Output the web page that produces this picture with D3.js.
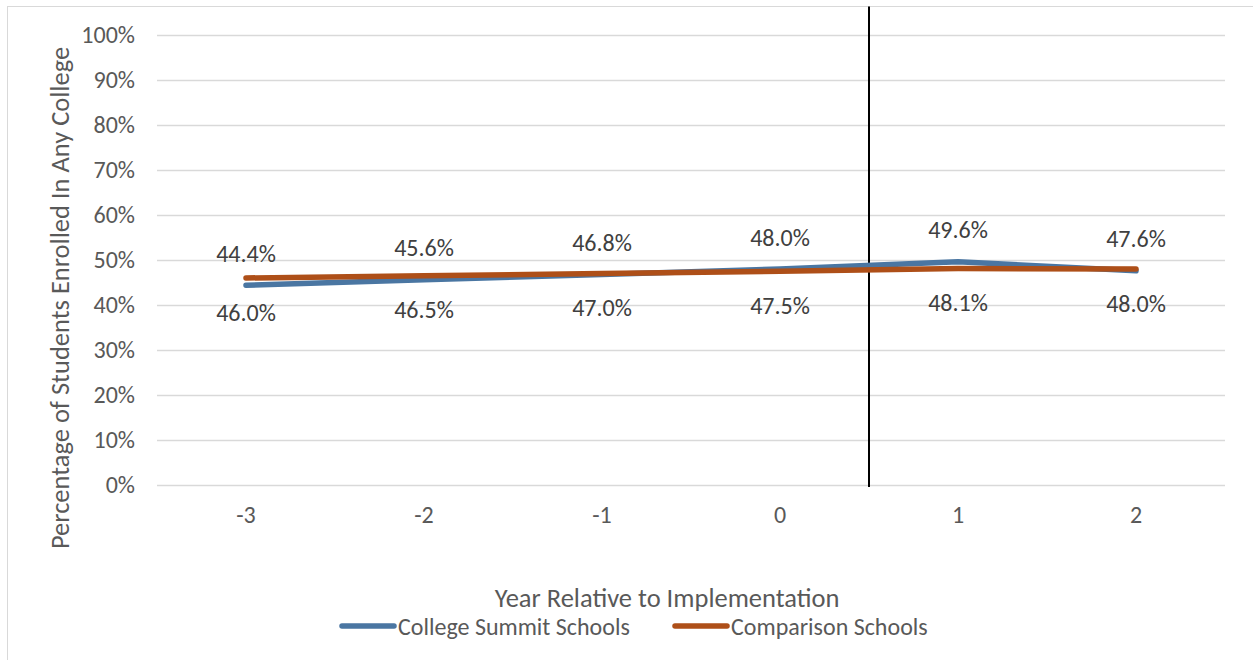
<!DOCTYPE html>
<html>
<head>
<meta charset="utf-8">
<script src="https://cdn.jsdelivr.net/npm/d3@7"></script>
<style>
  html, body { margin: 0; padding: 0; background: #fff; }
  svg { display: block; font-family: Carlito, Calibri, "Open Sans", "Noto Sans", sans-serif; }
</style>
</head>
<body>
<svg id="chart" width="1253" height="660"></svg>
<script>
// Years relative to the start of the program
const years = ["-3", "-2", "-1", "0", "1", "2"];
// Percentage of students enrolled in any college
const summitValues = [44.4, 45.6, 46.8, 48.0, 49.6, 47.6];
const comparisonValues = [46.0, 46.5, 47.0, 47.5, 48.1, 48.0];
const yTicks = [0, 10, 20, 30, 40, 50, 60, 70, 80, 90, 100];
const seriesNames = ["College Summit Schools", "Comparison Schools"];
const implementationBetween = ["0", "1"];

const colors = { summit: "#4a76a2", comparison: "#ae4f18" };

const svg = d3.select("#chart");
const W = 1253, H = 660;
const plot = { left: 157, right: 1225, top: 35, bottom: 485 };

// chart frame (extends past the bottom/right edge)
svg.append("rect")
  .attr("x", 7.5).attr("y", 6.5)
  .attr("width", W + 20).attr("height", H + 20)
  .attr("fill", "#fff").attr("stroke", "#d9d9d9").attr("stroke-width", 1);

const x = d3.scaleBand().domain(years).range([plot.left, plot.right]);
const y = d3.scaleLinear().domain([0, 100]).range([plot.bottom, plot.top]);

// gridlines + y tick labels
const yAxis = d3.axisLeft(y).tickValues(yTicks)
  .tickSize(-(plot.right - plot.left)).tickPadding(22)
  .tickFormat(d => d + "%");
const gy = svg.append("g").attr("transform", `translate(${plot.left},0)`).call(yAxis)
  .attr("font-family", null);
gy.select(".domain").remove();
gy.selectAll(".tick line").attr("stroke", "#d9d9d9").attr("stroke-width", 1.5);
gy.selectAll(".tick text").attr("fill", "#595959").attr("font-size", 24);

// x tick labels
const xAxis = d3.axisBottom(x).tickSize(0).tickPadding(21);
const gx = svg.append("g").attr("transform", `translate(0,${plot.bottom})`).call(xAxis)
  .attr("font-family", null);
gx.select(".domain").remove();
gx.selectAll(".tick text").attr("fill", "#595959").attr("font-size", 24);

// implementation marker between year 0 and year 1
const markerX = (x(implementationBetween[0]) + x.bandwidth() / 2 + x(implementationBetween[1]) + x.bandwidth() / 2) / 2;
svg.append("line")
  .attr("x1", markerX).attr("x2", markerX)
  .attr("y1", 6.5).attr("y2", plot.bottom + 2)
  .attr("stroke", "#000").attr("stroke-width", 2);

const cx = d => x(d) + x.bandwidth() / 2;
const line = d3.line().x(d => cx(d.year)).y(d => y(d.value));

const series = [
  { key: "summit", name: seriesNames[0], values: summitValues, dy: -32 },
  { key: "comparison", name: seriesNames[1], values: comparisonValues, dy: 34 }
];

series.forEach(s => {
  const pts = years.map((yr, i) => ({ year: yr, value: s.values[i] }));
  svg.append("path").datum(pts)
    .attr("d", line)
    .attr("fill", "none")
    .attr("stroke", colors[s.key])
    .attr("stroke-width", 5.5)
    .attr("stroke-linecap", "round")
    .attr("stroke-linejoin", "round");
});

// data labels: summit above, comparison below
series.forEach(s => {
  svg.append("g").selectAll("text")
    .data(years.map((yr, i) => ({ year: yr, value: s.values[i] })))
    .join("text")
    .attr("x", d => cx(d.year))
    .attr("y", d => y(d.value) + s.dy)
    .attr("text-anchor", "middle")
    .attr("dominant-baseline", "central")
    .attr("fill", "#404040")
    .attr("font-size", 24)
    .text(d => d.value.toFixed(1) + "%");
});

// axis titles
svg.append("text")
  .attr("x", (plot.left + plot.right) / 2 - 24).attr("y", 598)
  .attr("text-anchor", "middle").attr("dominant-baseline", "central")
  .attr("fill", "#595959").attr("font-size", 26.5)
  .text("Year Relative to Implementation");

svg.append("text")
  .attr("transform", `translate(60,${(plot.top + plot.bottom) / 2 + 38}) rotate(-90)`)
  .attr("text-anchor", "middle").attr("dominant-baseline", "central")
  .attr("fill", "#595959").attr("font-size", 26.5)
  .text("Percentage of Students Enrolled In Any College");

// legend
const legendItems = [
  { key: "summit", name: seriesNames[0], x: 340 },
  { key: "comparison", name: seriesNames[1], x: 673 }
];
const lg = svg.append("g");
legendItems.forEach(it => {
  lg.append("line")
    .attr("x1", it.x + 2).attr("x2", it.x + 54)
    .attr("y1", 626).attr("y2", 626)
    .attr("stroke", colors[it.key]).attr("stroke-width", 5.5)
    .attr("stroke-linecap", "round");
  lg.append("text")
    .attr("x", it.x + 58).attr("y", 626)
    .attr("dominant-baseline", "central")
    .attr("fill", "#595959").attr("font-size", 24)
    .text(it.name);
});
</script>
</body>
</html>
